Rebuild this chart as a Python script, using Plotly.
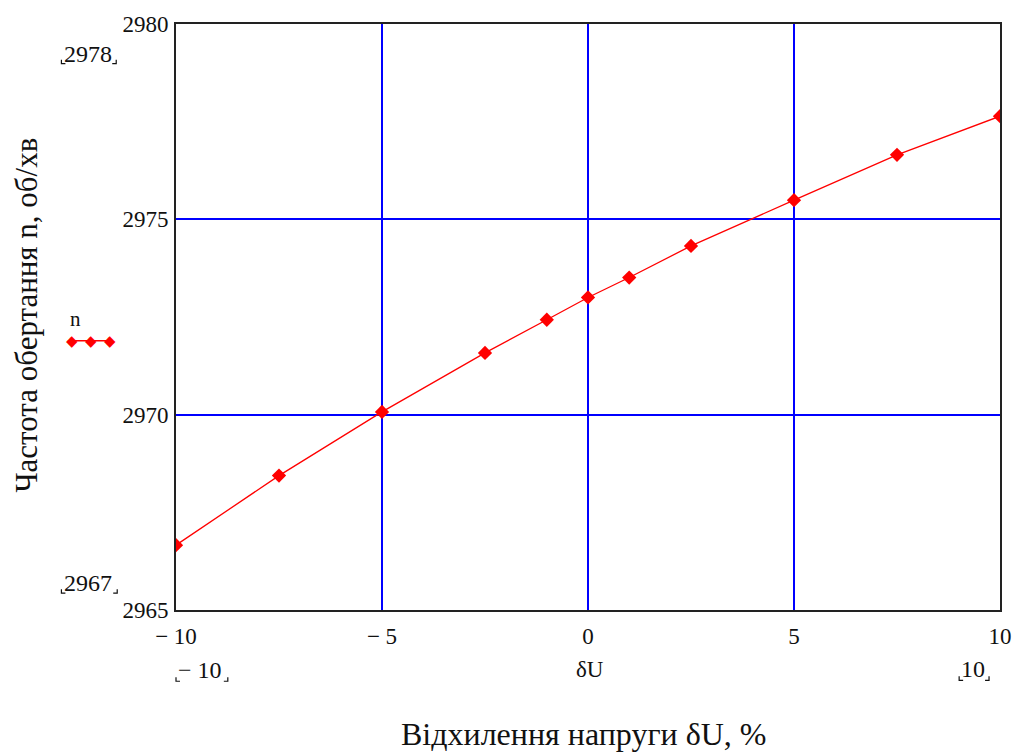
import plotly.graph_objects as go

# Data
dU = [-10, -7.5, -5, -2.5, -1, 0, 1, 2.5, 5, 7.5, 10]
n_vals = [2966.66, 2968.44, 2970.07, 2971.58, 2972.43, 2973.0, 2973.51, 2974.32, 2975.49, 2976.65, 2977.64]

x_ticks = [-10, -5, 0, 5, 10]
x_ticktext = ["\u2212 10", "\u2212 5", "0", "5", "10"]
y_ticks = [2965, 2970, 2975, 2980]
y_ticktext = ["2965", "2970", "2975", "2980"]

FONT = "Liberation Serif"

# Plot area in pixels (for placing extra decoration in paper coords)
L, R, T, B = 176, 1003, 18, 610
W, H = 1024, 755


def px(x):
    return (x - L) / (R - L)


def py(y):
    return (B - y) / (B - T)


fig = go.Figure()
fig.add_trace(go.Scatter(
    x=dU, y=n_vals, mode="lines+markers",
    line=dict(color="#ff0000", width=1.3),
    marker=dict(symbol="diamond", size=11, color="#ff0000"),
    showlegend=False, name="n",
))

annotations = []
shapes = []

# Limit labels with Mathcad-style corner brackets
limit_labels = [
    ("2978", 88, 48, 61, 116, 58),
    ("2967", 88, 583, 61, 117, 593),
    ("\u2212 10", 200, 671, 176, 228, 682),
    ("10", 976, 670, 962, 992, 681),
]
for txt, cx, cy, lx, rx, by in limit_labels:
    annotations.append(dict(text=txt, x=px(cx), y=py(cy), xref="paper", yref="paper",
                            showarrow=False, xanchor="center", yanchor="middle",
                            font=dict(family=FONT, size=24, color="#111111")))
    shapes.append(dict(type="path", xref="paper", yref="paper",
                       path=f"M {px(lx)},{py(by-4)} L {px(lx)},{py(by)} L {px(lx+4)},{py(by)}",
                       line=dict(color="#111111", width=1.2)))
    shapes.append(dict(type="path", xref="paper", yref="paper",
                       path=f"M {px(rx)},{py(by-4)} L {px(rx)},{py(by)} L {px(rx-4)},{py(by)}",
                       line=dict(color="#111111", width=1.2)))

# Variable name under x axis
annotations.append(dict(text="\u03b4U", x=px(592), y=py(670), xref="paper", yref="paper",
                        showarrow=False, xanchor="center", yanchor="middle",
                        font=dict(family=FONT, size=23, color="#111111")))

# Legend-like sample: "n" with three diamonds
annotations.append(dict(text="n", x=px(75), y=py(316), xref="paper", yref="paper",
                        showarrow=False, xanchor="center", yanchor="middle",
                        font=dict(family=FONT, size=21, color="#111111")))
shapes.append(dict(type="line", xref="paper", yref="paper",
                   x0=px(72), x1=px(110), y0=py(338), y1=py(338),
                   line=dict(color="#ff0000", width=1.5)))
for mx in (72, 91, 110):
    annotations.append(dict(text="\u25c6", x=px(mx), y=py(338), xref="paper", yref="paper",
                            showarrow=False, xanchor="center", yanchor="middle",
                            font=dict(family="DejaVu Sans", size=15, color="#ff0000")))

# Axis titles
annotations.append(dict(text="\u0412\u0456\u0434\u0445\u0438\u043b\u0435\u043d\u043d\u044f \u043d\u0430\u043f\u0440\u0443\u0433\u0438 \u03b4U, %",
                        x=px(585), y=py(735), xref="paper", yref="paper",
                        showarrow=False, xanchor="center", yanchor="middle",
                        font=dict(family=FONT, size=32, color="#111111")))
annotations.append(dict(text="\u0427\u0430\u0441\u0442\u043e\u0442\u0430 \u043e\u0431\u0435\u0440\u0442\u0430\u043d\u043d\u044f n, \u043e\u0431/\u0445\u0432",
                        x=px(25), y=py(312), xref="paper", yref="paper", textangle=-90,
                        showarrow=False, xanchor="center", yanchor="middle",
                        font=dict(family=FONT, size=31, color="#111111")))

fig.update_layout(
    width=W, height=H,
    margin=dict(l=L, r=W - R, t=T, b=H - B),
    paper_bgcolor="white", plot_bgcolor="white",
    annotations=annotations, shapes=shapes,
    xaxis=dict(range=[-10, 10], tickvals=x_ticks, ticktext=x_ticktext,
               showgrid=True, gridcolor="#0000ff", gridwidth=1.5,
               showline=True, linecolor="#222222", linewidth=2, mirror=True,
               zeroline=False, ticks="", ticklabelstandoff=4,
               tickfont=dict(family=FONT, size=23, color="#111111")),
    yaxis=dict(range=[2965, 2980], tickvals=y_ticks, ticktext=y_ticktext,
               showgrid=True, gridcolor="#0000ff", gridwidth=1.5,
               showline=True, linecolor="#222222", linewidth=2, mirror=True,
               zeroline=False, ticks="", ticklabelstandoff=1,
               tickfont=dict(family=FONT, size=23, color="#111111")),
)

fig.write_html("out.html")
